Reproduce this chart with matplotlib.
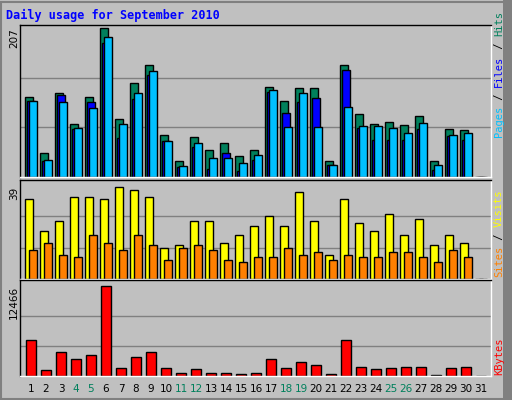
import matplotlib
matplotlib.use("Agg")
import matplotlib.pyplot as plt
from matplotlib.patches import Rectangle

days = list(range(1, 32))
hits  = [111,33,117,74,111,207,81,130,155,59,22,55,37,47,29,37,125,106,124,123,22,155,88,74,76,72,85,22,66,65,0]
files = [106,22,114,67,104,186,54,108,141,50,14,42,11,33,9,23,118,89,104,110,16,149,68,52,51,52,66,10,57,52,0]
pages = [106,24,104,68,96,194,74,117,147,50,15,47,26,27,20,30,121,69,117,69,17,97,71,71,68,61,75,16,58,61,0]
visits = [33,20,24,34,34,33,38,37,34,13,14,24,24,15,18,22,26,22,36,24,10,33,23,20,27,18,25,14,18,15,0]
sites  = [12,15,10,9,18,15,12,18,14,8,13,14,12,8,7,9,9,13,10,11,8,10,9,9,11,11,9,7,12,9,0]
kbytes = [5069,822,3288,2329,2877,12466,1096,2603,3288,1096,411,959,411,411,274,411,2329,1096,1918,1507,274,5069,1233,959,1096,1233,1233,137,1096,1233,0]
weekend = [4,5,11,12,18,19,25,26]
max_hits, max_visits, max_kb = 207, 39, 12466

W, H = 512, 400
fig = plt.figure(figsize=(W/100, H/100), dpi=100, facecolor="#C0C0C0")
mono = "DejaVu Sans Mono"

# outer border
fig.patches.append(Rectangle((1/W, 1/H), (W-3)/W, (H-3)/H, transform=fig.transFigure,
                             fill=False, edgecolor="#808080", lw=1.5))
fig.patches.append(Rectangle((503/W, 0), 9/W, 1, transform=fig.transFigure,
                             facecolor="#808080", edgecolor="none"))
fig.text(6/W, 1-15/H, "Daily usage for September 2010", color="#0000FF",
         fontsize=8.5, fontweight="bold", family=mono, va="center")

def mk(top, bot):
    ax = fig.add_axes([20/W, 1-bot/H, 471/W, (bot-top)/H])
    ax.set_facecolor("#C0C0C0")
    ax.set_xlim(0, 471/15)
    ax.set_xticks([]); ax.set_yticks([])
    for s in ax.spines.values():
        s.set_color("black"); s.set_linewidth(1)
    ax.spines["right"].set_color("white"); ax.spines["bottom"].set_color("white")
    ax.spines["top"].set_color("black")
    return ax

u = 1/15
x0 = [d-1+5*u for d in days]

# top panel
ax1 = mk(25, 177)
ax1.set_ylim(0, max_hits*1.02)
for g in (max_hits/3, 2*max_hits/3):
    ax1.axhline(g, color="#808080", lw=1, zorder=0)
ax1.bar([x for x in x0], hits, width=8*u, align="edge", color="#00805C", edgecolor="black", lw=1)
ax1.bar([x+2*u for x in x0], files, width=8*u, align="edge", color="#0000FF", edgecolor="black", lw=1)
ax1.bar([x+4*u for x in x0], pages, width=8*u, align="edge", color="#00C0FF", edgecolor="black", lw=1)

ax2 = mk(180, 279)
ax2.set_ylim(0, max_visits*1.05)
for g in (max_visits/3, 2*max_visits/3):
    ax2.axhline(g, color="#808080", lw=1, zorder=0)
ax2.bar(x0, visits, width=8*u, align="edge", color="#FFFF00", edgecolor="black", lw=1)
ax2.bar([x+4*u for x in x0], sites, width=8*u, align="edge", color="#FF8000", edgecolor="black", lw=1)

ax3 = mk(280, 376)
ax3.set_ylim(0, max_kb*1.07)
for g in (max_kb/3, 2*max_kb/3):
    ax3.axhline(g, color="#808080", lw=1, zorder=0)
ax3.bar([x+1*u for x in x0], kbytes, width=10*u, align="edge", color="#FF0000", edgecolor="black", lw=1)

# x labels
for d in days:
    xp = 20 + (d-1)*15 + 5 + 6
    fig.text(xp/W, 1-389/H, str(d), ha="center", va="center", fontsize=7.5,
             family="DejaVu Sans", color="#00805C" if d in weekend else "black")

# y max labels
fig.text(14/W, 1-38/H, str(max_hits), rotation=90, ha="center", va="center", fontsize=7.5, family="DejaVu Sans")
fig.text(14/W, 1-193/H, str(max_visits), rotation=90, ha="center", va="center", fontsize=7.5, family="DejaVu Sans")
fig.text(14/W, 1-302/H, str(max_kb), rotation=90, ha="center", va="center", fontsize=7.5, family="DejaVu Sans")

def side(parts, ybot):
    y = ybot
    for txt, col in parts:
        t = fig.text(499/W, 1-y/H, txt, rotation=90, ha="center", va="bottom",
                     fontsize=7.5, family=mono, color=col)
        y -= len(txt)*6.3
side([("Pages", "#00C0FF"), (" / ", "black"), ("Files", "#0000FF"), (" / ", "black"), ("Hits", "#00805C")], 137)
side([("Sites", "#FF8000"), (" / ", "black"), ("Visits", "#FFFF00")], 277)
side([("KBytes", "#FF0000")], 375)

fig.savefig("out.png", dpi=100, facecolor=fig.get_facecolor())
